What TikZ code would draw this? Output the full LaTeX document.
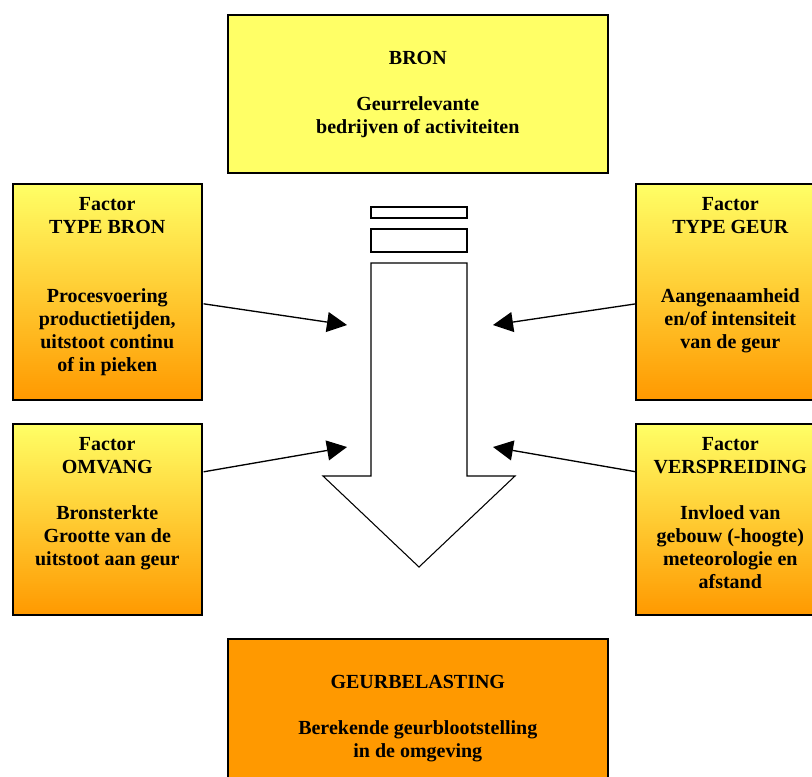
\documentclass[tikz,border=0pt]{standalone}
\usepackage{fontspec}
\setmainfont{Liberation Serif}
\usetikzlibrary{arrows.meta}

\definecolor{bronyellow}{HTML}{FFFF66}
\definecolor{geurorange}{HTML}{FF9900}

\begin{document}
\begin{tikzpicture}[x=0.75pt, y=-0.75pt,
  box/.style={rectangle, draw, line width=1.2pt, anchor=north west, inner sep=0pt},
  mainbox/.style={box, minimum width=285pt, minimum height=118.5pt},
  factorbox/.style={box, top color=bronyellow, bottom color=geurorange, minimum width=141.75pt},
  boxtext/.style={font=\bfseries\fontsize{15pt}{17.25pt}\selectfont, align=center, anchor=north, inner sep=0pt},
  feed/.style={-{Triangle[length=15pt, width=15pt]}, line width=1pt},
  flow/.style={draw, line width=0.8pt, fill=white}]

\useasboundingbox (0,0) rectangle (812,776);
\clip (0,0) rectangle (812,776);

\node[mainbox, fill=bronyellow] (bron) at (227,14) {};
\node[boxtext, yshift=-27.75pt] (bron-text) at (bron.north)
      {BRON\\[17.25pt]Geurrelevante\\bedrijven of activiteiten};

\node[mainbox, fill=geurorange] (belasting) at (227,638) {};
\node[boxtext, yshift=-27.75pt] (belasting-text) at (belasting.north)
      {GEURBELASTING\\[17.25pt]Berekende geurblootstelling\\in de omgeving};

\node[factorbox, minimum height=162pt] (typebron) at (12,183) {};
\node[boxtext, yshift=-10.5pt] (typebron-text) at (typebron.north)
      {Factor\\TYPE BRON\\[34.5pt]Procesvoering\\productietijden,\\uitstoot continu\\of in pieken};

\node[factorbox, minimum height=162pt] (typegeur) at (635,183) {};
\node[boxtext, yshift=-10.5pt] (typegeur-text) at (typegeur.north)
      {Factor\\TYPE GEUR\\[34.5pt]Aangenaamheid\\en/of intensiteit\\van de geur};

\node[factorbox, minimum height=143.25pt] (omvang) at (12,423) {};
\node[boxtext, yshift=-10.5pt] (omvang-text) at (omvang.north)
      {Factor\\OMVANG\\[17.25pt]Bronsterkte\\Grootte van de\\uitstoot aan geur};

\node[factorbox, minimum height=143.25pt] (verspreiding) at (635,423) {};
\node[boxtext, yshift=-10.5pt] (verspreiding-text) at (verspreiding.north)
      {Factor\\VERSPREIDING\\[17.25pt]Invloed van\\gebouw (-hoogte)\\meteorologie en\\afstand};

\path[flow] (371,207) rectangle (467,218) (371,229) rectangle (467,252);
\path[flow] (371,263) -- (467,263) -- (467,476) -- (515,476) -- (419,567)
      -- (323,476) -- (371,476) -- cycle;

\coordinate (in-typebron) at (347,325);
\coordinate (in-typegeur) at (493,325);
\coordinate (in-omvang) at (347,447);
\coordinate (in-verspreiding) at (493,447);

\draw[feed] ([shift={(1,12)}]typebron.east) -- (in-typebron);
\draw[feed] ([shift={(1,12)}]typegeur.west) -- (in-typegeur);
\draw[feed] ([shift={(1,-47.5)}]omvang.east) -- (in-omvang);
\draw[feed] ([shift={(1,-47.5)}]verspreiding.west) -- (in-verspreiding);
\end{tikzpicture}
\end{document}
